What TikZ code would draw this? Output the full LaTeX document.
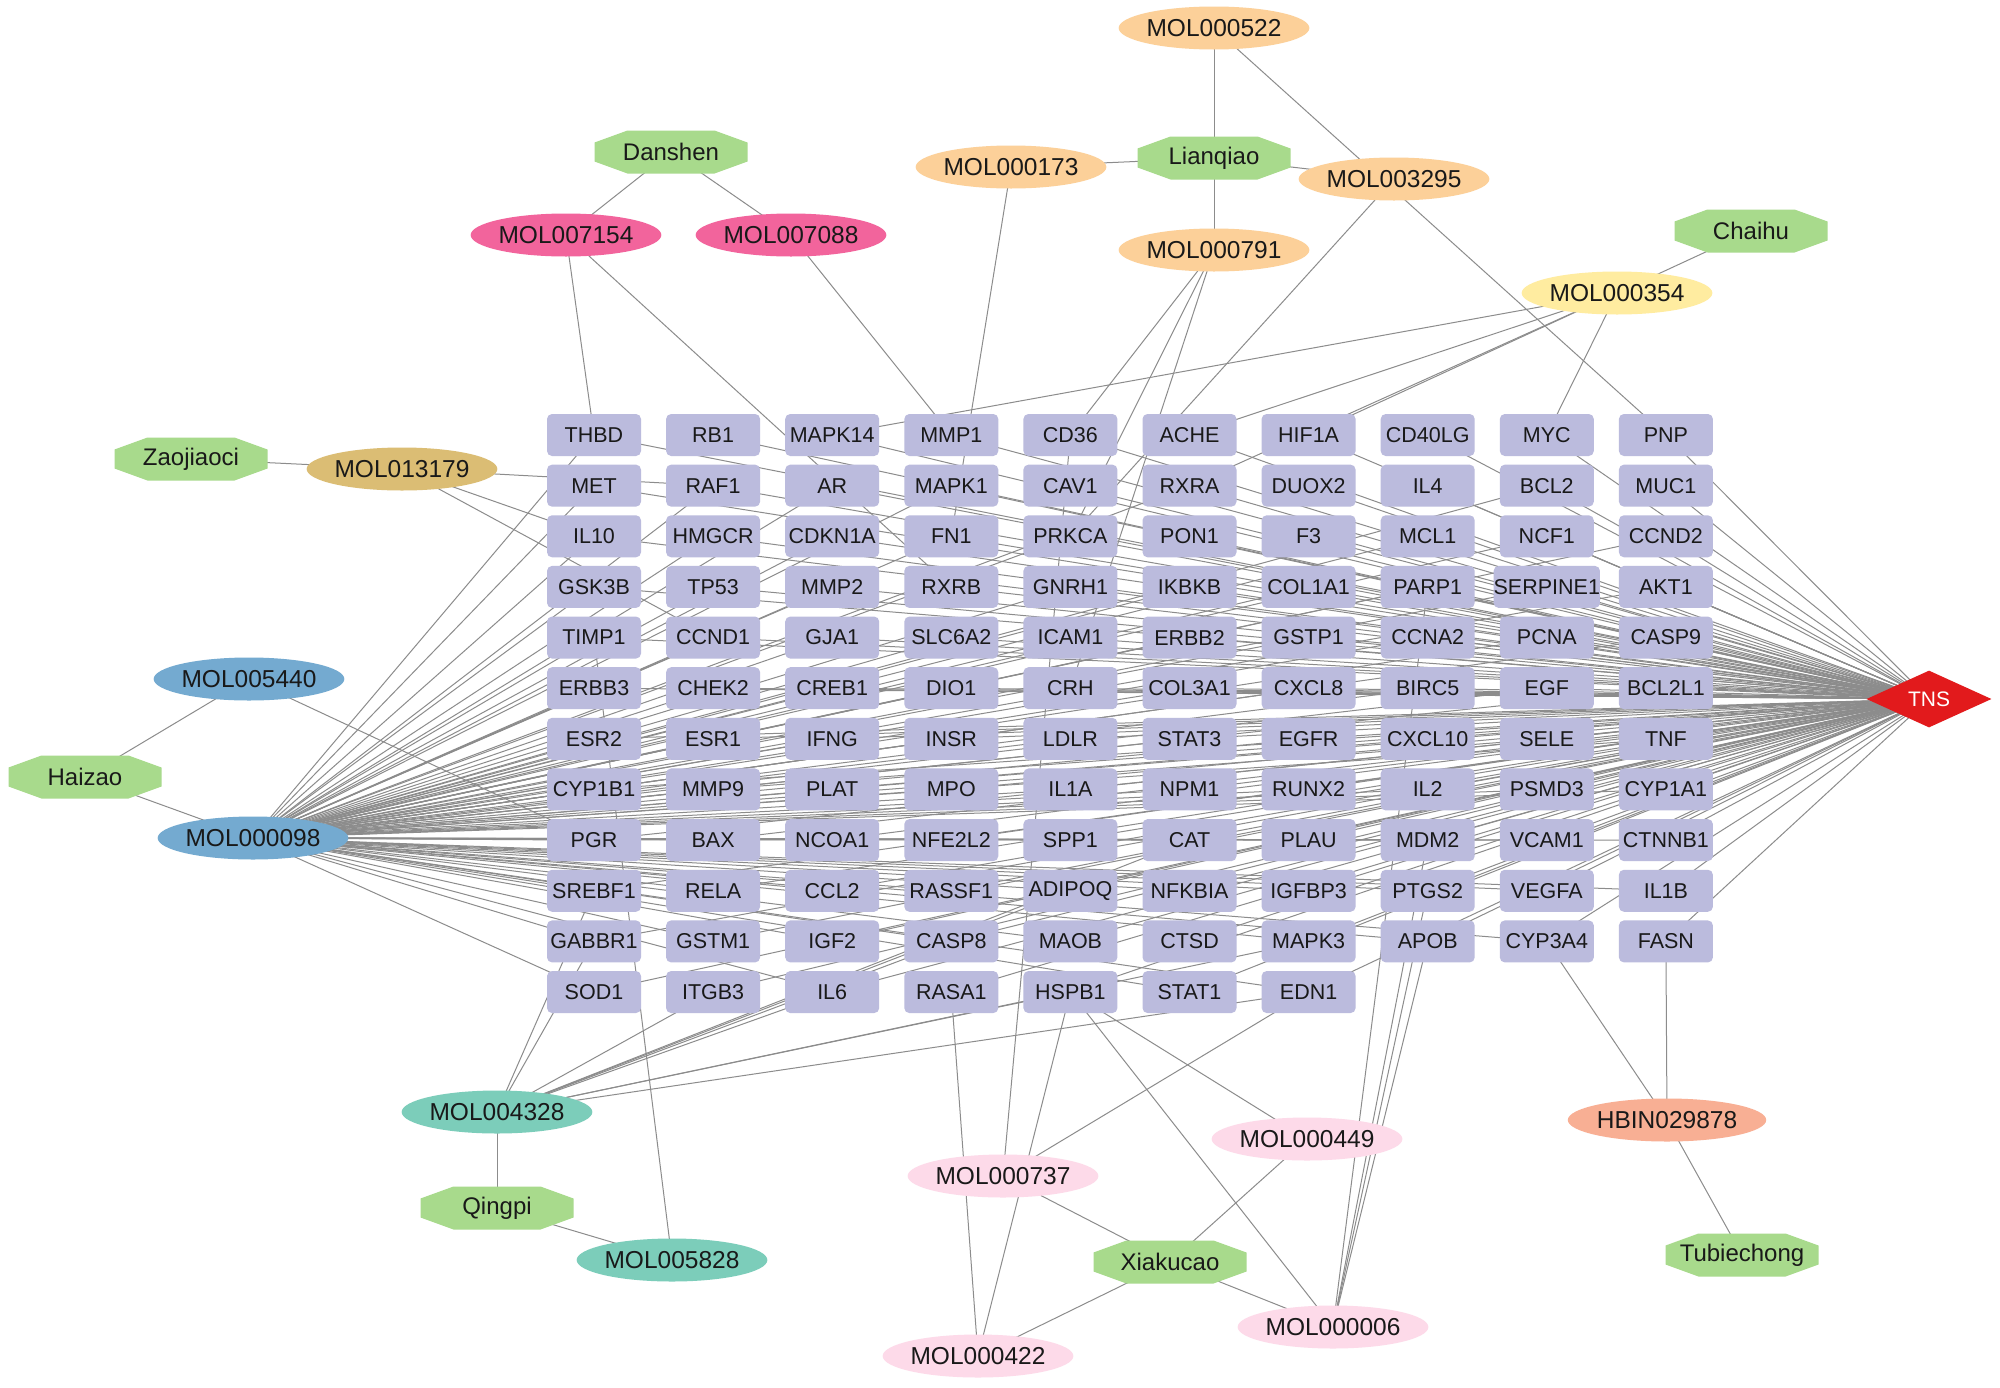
\documentclass[tikz,border=0pt]{standalone}
\usepackage{fontspec}
\setmainfont{Liberation Sans}
\usetikzlibrary{shapes.geometric}
\pgfdeclarelayer{background}
\pgfsetlayers{background,main}
\definecolor{boxc}{RGB}{187,187,221}
\definecolor{herbc}{RGB}{168,218,140}
\definecolor{orangec}{RGB}{252,208,153}
\definecolor{magc}{RGB}{242,100,156}
\definecolor{yelc}{RGB}{255,236,160}
\definecolor{tanc}{RGB}{219,189,116}
\definecolor{bluec}{RGB}{116,170,208}
\definecolor{tealc}{RGB}{124,205,186}
\definecolor{pinkc}{RGB}{253,218,233}
\definecolor{salc}{RGB}{248,175,148}
\definecolor{tnsc}{RGB}{226,26,28}
\definecolor{edgec}{RGB}{140,140,140}
\newcommand\herbnode[4]{%
  \fill[herbc] ({#2-43.5},{#3-21.5}) -- ({#2+43.5},{#3-21.5}) -- ({#2+76.5},{#3-9.5}) -- ({#2+76.5},{#3+9.5}) -- ({#2+43.5},{#3+21.5}) -- ({#2-43.5},{#3+21.5}) -- ({#2-76.5},{#3+9.5}) -- ({#2-76.5},{#3-9.5}) -- cycle;
  \node[herb] (#1) at (#2,#3) {#4};}
\def\gridrows{{THBD,RB1,MAPK14,MMP1,CD36,ACHE,HIF1A,CD40LG,MYC,PNP},
{MET,RAF1,AR,MAPK1,CAV1,RXRA,DUOX2,IL4,BCL2,MUC1},
{IL10,HMGCR,CDKN1A,FN1,PRKCA,PON1,F3,MCL1,NCF1,CCND2},
{GSK3B,TP53,MMP2,RXRB,GNRH1,IKBKB,COL1A1,PARP1,SERPINE1,AKT1},
{TIMP1,CCND1,GJA1,SLC6A2,ICAM1,ERBB2,GSTP1,CCNA2,PCNA,CASP9},
{ERBB3,CHEK2,CREB1,DIO1,CRH,COL3A1,CXCL8,BIRC5,EGF,BCL2L1},
{ESR2,ESR1,IFNG,INSR,LDLR,STAT3,EGFR,CXCL10,SELE,TNF},
{CYP1B1,MMP9,PLAT,MPO,IL1A,NPM1,RUNX2,IL2,PSMD3,CYP1A1},
{PGR,BAX,NCOA1,NFE2L2,SPP1,CAT,PLAU,MDM2,VCAM1,CTNNB1},
{SREBF1,RELA,CCL2,RASSF1,ADIPOQ,NFKBIA,IGFBP3,PTGS2,VEGFA,IL1B},
{GABBR1,GSTM1,IGF2,CASP8,MAOB,CTSD,MAPK3,APOB,CYP3A4,FASN},
{SOD1,ITGB3,IL6,RASA1,HSPB1,STAT1,EDN1}}
\begin{document}
\begin{tikzpicture}[x=1pt,y=-1pt,
  tgt/.style={rectangle,rounded corners=5pt,fill=boxc,minimum width=94pt,minimum height=42pt,inner sep=0pt,text=black!90,font=\fontsize{21.5}{24}\selectfont},
  mol/.style={ellipse,minimum width=190pt,minimum height=43pt,inner sep=0pt,text=black!90,font=\fontsize{24.5}{28}\selectfont},
  herb/.style={rectangle,minimum width=153pt,minimum height=43pt,inner sep=0pt,text=black!90,font=\fontsize{24}{28}\selectfont},
  tns/.style={diamond,fill=tnsc,minimum width=125pt,minimum height=43pt,inner sep=0pt,text=white,font=\fontsize{21}{24}\selectfont},
  edge/.style={draw=edgec,line width=1pt}]
\useasboundingbox (0,0) rectangle (2000,1387);
% target grid
\foreach \row [count=\r from 0] in \gridrows {
  \foreach \g [count=\c from 0] in \row {
    \node[tgt] (\g) at ({594+119.1*\c},{435+50.64*\r}) {\g};
  }
}
% compounds
\node[mol,fill=orangec] (MOL000522) at (1214,28) {MOL000522};
\node[mol,fill=orangec] (MOL000173) at (1011,167) {MOL000173};
\node[mol,fill=orangec] (MOL003295) at (1394,179) {MOL003295};
\node[mol,fill=orangec] (MOL000791) at (1214,250) {MOL000791};
\node[mol,fill=magc] (MOL007154) at (566,235) {MOL007154};
\node[mol,fill=magc] (MOL007088) at (791,235) {MOL007088};
\node[mol,fill=yelc] (MOL000354) at (1617,293) {MOL000354};
\node[mol,fill=tanc] (MOL013179) at (402,469) {MOL013179};
\node[mol,fill=bluec] (MOL005440) at (249,679) {MOL005440};
\node[mol,fill=bluec] (MOL000098) at (253,838) {MOL000098};
\node[mol,fill=tealc] (MOL004328) at (497,1112) {MOL004328};
\node[mol,fill=tealc] (MOL005828) at (672,1260) {MOL005828};
\node[mol,fill=pinkc] (MOL000737) at (1003,1176) {MOL000737};
\node[mol,fill=pinkc] (MOL000449) at (1307,1139) {MOL000449};
\node[mol,fill=pinkc] (MOL000422) at (978,1356) {MOL000422};
\node[mol,fill=pinkc] (MOL000006) at (1333,1327) {MOL000006};
\node[mol,fill=salc] (HBIN029878) at (1667,1120) {HBIN029878};
% herbs
\herbnode{Lianqiao}{1214}{158}{Lianqiao}
\herbnode{Danshen}{671}{152}{Danshen}
\herbnode{Chaihu}{1751}{231}{Chaihu}
\herbnode{Zaojiaoci}{191}{459}{Zaojiaoci}
\herbnode{Haizao}{85}{777}{Haizao}
\herbnode{Qingpi}{497}{1208}{Qingpi}
\herbnode{Xiakucao}{1170}{1262}{Xiakucao}
\herbnode{Tubiechong}{1742}{1255}{Tubiechong}
% disease
\node[tns] (TNS) at (1929,699) {TNS};
% edges
\begin{pgfonlayer}{background}
\fill[white] (0,0) rectangle (2000,1387);
\foreach \row in \gridrows {
  \foreach \g in \row { \draw[edge] (TNS.center) -- (\g.center); }
}
\foreach \g in {THBD,MET,IL10,GSK3B,TIMP1,ERBB3,ESR2,CYP1B1,PGR,SREBF1,GABBR1,SOD1,
  RAF1,HMGCR,TP53,CCND1,CHEK2,ESR1,MMP9,BAX,RELA,GSTM1,
  AR,CDKN1A,MMP2,GJA1,CREB1,IFNG,PLAT,NCOA1,CCL2,IGF2,IL6,
  MAPK1,FN1,SLC6A2,DIO1,INSR,MPO,NFE2L2,RASSF1,CASP8,
  PRKCA,GNRH1,ICAM1,LDLR,IL1A,SPP1,ADIPOQ,MAOB,
  RXRA,IKBKB,ERBB2,COL3A1,STAT3,NPM1,CAT,NFKBIA,STAT1,
  COL1A1,GSTP1,CXCL8,EGFR,RUNX2,PLAU,IGFBP3,MAPK3,EDN1,
  MCL1,PARP1,CCNA2,BIRC5,CXCL10,IL2,MDM2,PTGS2,APOB,
  BCL2,NCF1,SERPINE1,PCNA,EGF,SELE,PSMD3,VCAM1,VEGFA,CYP3A4,
  CCND2,AKT1,CASP9,BCL2L1,TNF,CYP1A1,CTNNB1,IL1B}
  { \draw[edge] (MOL000098.center) -- (\g.center); }
% herb - compound
\foreach \a/\b in {Lianqiao/MOL000522,Lianqiao/MOL000173,Lianqiao/MOL003295,Lianqiao/MOL000791,
  Danshen/MOL007154,Danshen/MOL007088,Chaihu/MOL000354,Zaojiaoci/MOL013179,
  Haizao/MOL005440,Haizao/MOL000098,Qingpi/MOL004328,Qingpi/MOL005828,
  Xiakucao/MOL000737,Xiakucao/MOL000449,Xiakucao/MOL000006,Xiakucao/MOL000422,
  Tubiechong/HBIN029878}
  { \draw[edge] (\a.center) -- (\b.center); }
% compound - target
\foreach \a/\b in {MOL000522/PNP,MOL000173/FN1,MOL003295/PRKCA,
  MOL000791/CD36,MOL000791/PRKCA,MOL000791/CRH,
  MOL007154/THBD,MOL007154/RXRB,MOL007088/MMP1,
  MOL000354/MAPK14,MOL000354/ACHE,MOL000354/HIF1A,MOL000354/RXRA,MOL000354/MYC,
  MOL013179/RAF1,MOL013179/IL10,MOL013179/CCND1,MOL005440/PGR,
  MOL004328/SREBF1,MOL004328/GABBR1,MOL004328/ITGB3,MOL004328/IL6,MOL004328/CASP8,
  MOL004328/ADIPOQ,MOL004328/CAT,MOL004328/HSPB1,MOL004328/MAPK3,MOL004328/EDN1,
  MOL005828/TIMP1,MOL000737/CD36,MOL000737/EDN1,MOL000422/RASA1,MOL000422/HSPB1,
  MOL000449/HSPB1,MOL000006/HSPB1,MOL000006/APOB,MOL000006/MDM2,MOL000006/PARP1,
  MOL000006/PTGS2,HBIN029878/CYP3A4,HBIN029878/FASN}
  { \draw[edge] (\a.center) -- (\b.center); }
\end{pgfonlayer}
\end{tikzpicture}
\end{document}
